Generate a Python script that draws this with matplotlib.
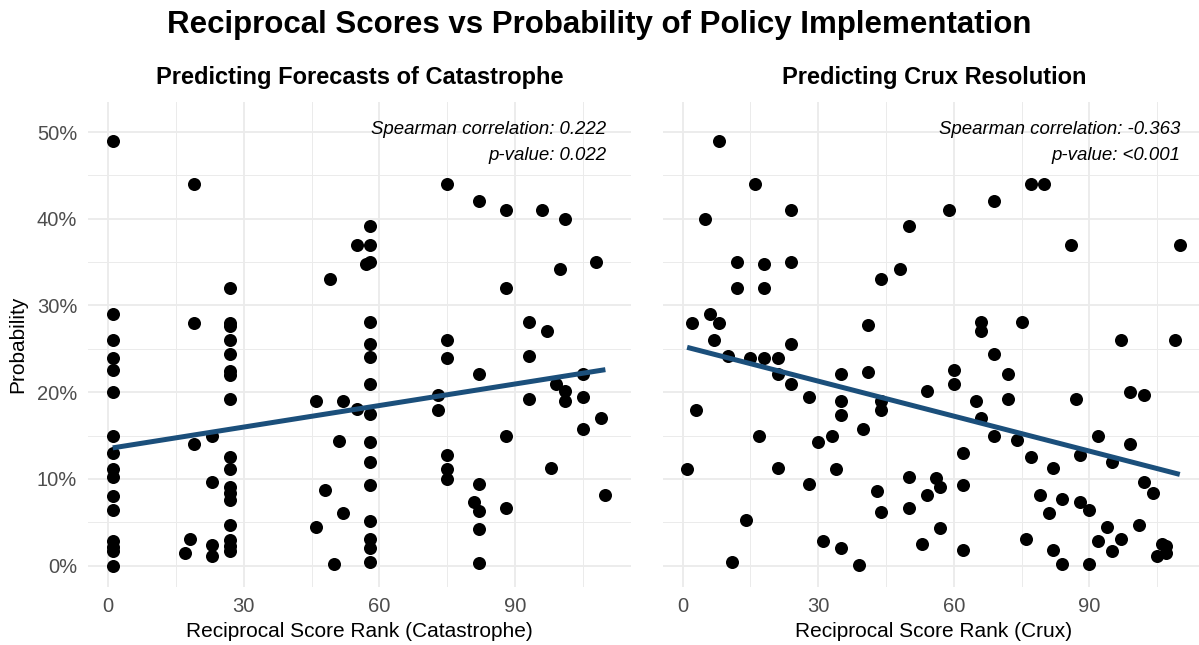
import matplotlib
matplotlib.use("Agg")
import matplotlib.pyplot as plt
import numpy as np
from matplotlib.ticker import FuncFormatter

plt.rcParams["font.family"] = ["Liberation Sans", "DejaVu Sans"]

# Reciprocal score rank vs forecast probability (%), catastrophe forecasts
cat_rank = [
    1, 1, 1, 1, 1, 1, 1, 1, 1, 1, 1, 1, 1, 1, 1, 1,
    17, 18, 19, 19, 19, 23, 23, 23, 23,
    27, 27, 27, 27, 27, 27, 27, 27, 27, 27, 27, 27, 27, 27, 27, 27, 27,
    46, 46, 48, 49, 50, 51, 52, 52, 55, 55, 57,
    58, 58, 58, 58, 58, 58, 58, 58, 58, 58, 58, 58, 58, 58, 58,
    73, 73, 75, 75, 75, 75, 75, 75, 81, 82, 82, 82, 82, 82, 82,
    88, 88, 88, 88, 93, 93, 93, 96, 97, 98, 99, 100, 101, 101, 101,
    105, 105, 105, 108, 109, 110,
]
cat_prob = [
    49, 29, 26, 24, 22.6, 20, 15, 13, 11.2, 10.2, 8, 6.4, 2.8, 2.2, 1.7, 0,
    1.5, 3.1, 44, 28, 14, 15, 9.6, 2.4, 1.1,
    32, 28, 27.6, 26, 24.4, 22.4, 22.0, 19.2, 12.5, 11.1, 9.1, 8.4, 7.6, 4.7, 2.9, 2.3, 1.7,
    19.0, 4.5, 8.7, 33, 0.2, 14.4, 19.0, 6.1, 37, 18.1, 34.8,
    39.2, 37, 35.0, 28.1, 25.5, 24.1, 21.0, 17.5, 14.2, 12.0, 9.3, 5.2, 3.1, 2.0, 0.4,
    19.7, 18.0, 44, 26.0, 24.0, 12.7, 11.1, 10.0, 7.3, 42, 22.1, 9.4, 6.3, 4.2, 0.3,
    41, 32, 15.0, 6.6, 28.1, 24.2, 19.2, 41, 27.0, 11.3, 21.0, 34.2, 40, 20.1, 19.0,
    22.1, 19.5, 15.7, 35, 17.0, 8.1,
]

# Reciprocal score rank vs probability (%), crux resolution
crux_rank = [
    1, 2, 3, 5, 6, 7, 8, 8, 10, 11, 12, 12, 14, 15, 16, 17, 18, 18, 18,
    21, 21, 21, 24, 24, 24, 24, 28, 28, 30, 31, 33, 34, 35, 35, 35, 35,
    39, 40, 41, 41, 43, 44, 44, 44, 44, 48, 50, 50, 50, 53, 54, 54, 56, 57, 57,
    59, 60, 60, 62, 62, 62, 65, 66, 66, 66, 69, 69, 69, 72, 72, 74, 75, 76,
    77, 77, 79, 80, 81, 82, 82, 84, 84, 86, 87, 88, 88, 90, 90, 92, 92,
    94, 95, 95, 97, 97, 99, 99, 101, 102, 102, 104, 105, 106, 107, 107, 109, 110,
]
crux_prob = [
    11.1, 28, 18.0, 40, 29, 26, 49, 28, 24.2, 0.4, 35, 32, 5.3, 24, 44, 15.0, 34.8, 32, 24,
    24, 22.1, 11.3, 41, 35, 25.5, 21.0, 19.4, 9.4, 14.2, 2.8, 15.0, 11.1, 22.1, 19.0, 17.4, 2.0,
    0.1, 15.7, 27.8, 22.3, 8.6, 33, 19.0, 18.0, 6.2, 34.2, 39.2, 10.2, 6.6, 2.5, 20.1, 8.1, 10.1, 9.1, 4.3,
    41, 22.6, 21.0, 13.0, 9.3, 1.8, 19.0, 28.1, 27.1, 17.0, 42, 24.4, 15.0, 22.1, 19.2, 14.5, 28.1, 3.1,
    44, 12.5, 8.1, 44, 6.1, 11.3, 1.8, 7.7, 0.2, 37, 19.2, 12.7, 7.3, 6.4, 0.2, 15.0, 2.8,
    4.5, 12.0, 1.7, 26, 3.1, 20.0, 14.0, 4.7, 19.7, 9.6, 8.4, 1.1, 2.5, 2.3, 1.5, 26, 37,
]

panels = [
    ("Predicting Forecasts of Catastrophe", "Reciprocal Score Rank (Catastrophe)",
     cat_rank, cat_prob, "Spearman correlation: 0.222", "p-value: 0.022"),
    ("Predicting Crux Resolution", "Reciprocal Score Rank (Crux)",
     crux_rank, crux_prob, "Spearman correlation: -0.363", "p-value: <0.001"),
]

GRID = "#EBEBEB"
TICK_GRAY = "#4D4D4D"
LINE_BLUE = "#1B4F7B"

W, H = 1199, 645
fig = plt.figure(figsize=(W / 100, H / 100), dpi=100)
fig.patch.set_facecolor("white")

panel_h = 485.6 / H
panel_w = 542.4 / W
bottom = 1 - 587.3 / H
lefts = [88.3 / W, 662.7 / W]

for i, (title, xlabel, xs, ys, corr_txt, p_txt) in enumerate(panels):
    ax = fig.add_axes([lefts[i], bottom, panel_w, panel_h])
    xs = np.asarray(xs, dtype=float)
    ys = np.asarray(ys, dtype=float)

    ax.scatter(xs, ys, s=88, color="black", linewidths=0, zorder=3)

    # least-squares fit across the observed rank range
    slope, intercept = np.polyfit(xs, ys, 1)
    fx = np.array([xs.min(), xs.max()])
    ax.plot(fx, intercept + slope * fx, color=LINE_BLUE, lw=3.6,
            solid_capstyle="butt", zorder=4)

    ax.set_xlim(-4.4, 115.6)
    ax.set_ylim(-2.5, 53.5)
    ax.set_xticks([0, 30, 60, 90])
    ax.set_xticks([15, 45, 75, 105], minor=True)
    ax.set_yticks([0, 10, 20, 30, 40, 50])
    ax.set_yticks([5, 15, 25, 35, 45], minor=True)
    ax.yaxis.set_major_formatter(FuncFormatter(lambda v, _: f"{v:.0f}%"))
    ax.grid(which="major", color=GRID, lw=1.3, zorder=0)
    ax.grid(which="minor", color=GRID, lw=0.7, zorder=0)
    ax.set_axisbelow(True)
    for sp in ax.spines.values():
        sp.set_visible(False)
    ax.tick_params(which="both", length=0, labelsize=14.5, labelcolor=TICK_GRAY)
    ax.tick_params(axis="x", pad=7)
    ax.tick_params(axis="y", pad=8)
    if i == 1:
        ax.tick_params(axis="y", labelleft=False)
    else:
        ax.set_ylabel("Probability", fontsize=15)
        ax.yaxis.set_label_coords(-0.13, 0.5)
        ax.yaxis.label.set_va("center")

    ax.set_xlabel(xlabel, fontsize=15)
    ax.xaxis.set_label_coords(0.5, -0.09)
    ax.xaxis.label.set_va("center")

    ax.set_title(title, fontsize=17, fontweight="bold", pad=13)

    trans = ax.get_xaxis_transform()
    ax.text(110.2, 0.933, corr_txt, transform=trans, ha="right", va="baseline",
            fontsize=13.4, style="italic")
    ax.text(110.2, 0.880, p_txt, transform=trans, ha="right", va="baseline",
            fontsize=13.4, style="italic")

fig.text(0.5, 1 - 33 / H, "Reciprocal Scores vs Probability of Policy Implementation",
         ha="center", va="baseline", fontsize=22.5, fontweight="bold")

fig.savefig("out.png", dpi=100)
